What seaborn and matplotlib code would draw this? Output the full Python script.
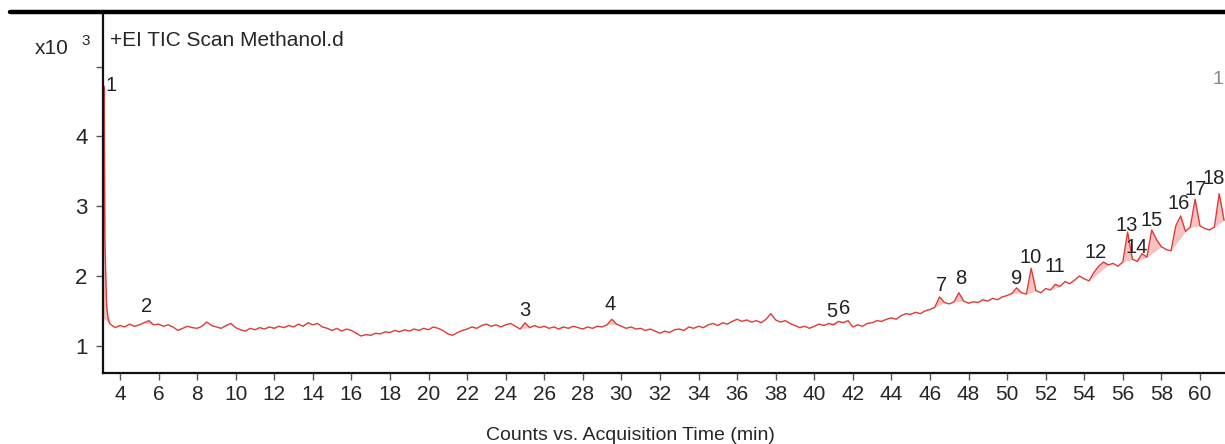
import matplotlib
matplotlib.use("Agg")
import matplotlib.pyplot as plt
from matplotlib.lines import Line2D
import numpy as np
import pandas as pd
import seaborn as sns

# TIC trace, counts in units of x10^3
rt_head = [3.12, 3.15, 3.17, 3.19, 3.22, 3.26, 3.31, 3.38, 3.44]
tic_head = [1.40, 3.20, 4.72, 4.20, 2.50, 2.05, 1.56, 1.40, 1.34]

# samples every 0.25 min from 3.5 to 61.25
tic_grid = [
    1.31, 1.26,
    1.29, 1.27, 1.31, 1.28,   # 4
    1.30, 1.33, 1.36, 1.30,   # 5
    1.31, 1.28, 1.30, 1.27,   # 6
    1.22, 1.25, 1.28, 1.26,   # 7
    1.25, 1.28, 1.34, 1.29,   # 8
    1.27, 1.25, 1.29, 1.32,   # 9
    1.26, 1.23, 1.21, 1.25,   # 10
    1.23, 1.26, 1.24, 1.27,   # 11
    1.25, 1.28, 1.26, 1.29,   # 12
    1.27, 1.31, 1.28, 1.33,   # 13
    1.30, 1.32, 1.27, 1.25,   # 14
    1.22, 1.25, 1.21, 1.24,   # 15
    1.22, 1.18, 1.14, 1.16,   # 16
    1.15, 1.18, 1.17, 1.20,   # 17
    1.19, 1.22, 1.20, 1.23,   # 18
    1.21, 1.24, 1.22, 1.25,   # 19
    1.23, 1.27, 1.25, 1.22,   # 20
    1.17, 1.15, 1.19, 1.22,   # 21
    1.24, 1.27, 1.25, 1.29,   # 22
    1.31, 1.28, 1.30, 1.27,   # 23
    1.30, 1.32, 1.28, 1.24,   # 24
    1.33, 1.26, 1.29, 1.26,   # 25
    1.28, 1.25, 1.27, 1.24,   # 26
    1.27, 1.25, 1.28, 1.26,   # 27
    1.24, 1.27, 1.25, 1.28,   # 28
    1.27, 1.30, 1.38, 1.31,   # 29
    1.28, 1.25, 1.27, 1.24,   # 30
    1.25, 1.22, 1.24, 1.21,   # 31
    1.18, 1.21, 1.19, 1.23,   # 32
    1.24, 1.22, 1.27, 1.25,   # 33
    1.28, 1.26, 1.30, 1.32,   # 34
    1.29, 1.33, 1.31, 1.35,   # 35
    1.38, 1.35, 1.37, 1.34,   # 36
    1.36, 1.33, 1.38, 1.46,   # 37
    1.37, 1.34, 1.36, 1.32,   # 38
    1.29, 1.26, 1.28, 1.25,   # 39
    1.28, 1.31, 1.29, 1.32,   # 40
    1.30, 1.35, 1.33, 1.36,   # 41
    1.27, 1.30, 1.28, 1.32,   # 42
    1.33, 1.36, 1.35, 1.38,   # 43
    1.40, 1.38, 1.43, 1.46,   # 44
    1.45, 1.48, 1.46, 1.50,   # 45
    1.52, 1.55, 1.70, 1.62,   # 46
    1.60, 1.63, 1.76, 1.64,   # 47
    1.61, 1.63, 1.62, 1.66,   # 48
    1.64, 1.68, 1.66, 1.70,   # 49
    1.72, 1.75, 1.83, 1.76,   # 50
    1.74, 2.11, 1.79, 1.76,   # 51
    1.82, 1.80, 1.88, 1.85,   # 52
    1.92, 1.89, 1.94, 2.00,   # 53
    1.96, 1.93, 2.05, 2.14,   # 54
    2.20, 2.16, 2.18, 2.14,   # 55
    2.20, 2.63, 2.24, 2.21,   # 56
    2.32, 2.27, 2.66, 2.52,   # 57
    2.42, 2.38, 2.36, 2.72,   # 58
    2.86, 2.64, 2.70, 3.10,   # 59
    2.72, 2.68, 2.66, 2.70,   # 60
    3.18, 2.80,               # 61
]
rt_grid = np.arange(len(tic_grid)) * 0.25 + 3.5

# integrated peak windows (start, end) in min
peak_windows = [(3.12, 3.5), (5.25, 5.75), (24.75, 25.25), (29.25, 29.75),
                (40.75, 41.25), (41.25, 41.75), (46.25, 46.75), (47.25, 47.75),
                (50.25, 50.75), (51.0, 51.5), (52.25, 52.75), (54.25, 55.25),
                (56.0, 56.5), (56.75, 57.25), (57.25, 58.0), (58.5, 59.25),
                (59.5, 60.0), (60.75, 61.25)]

peak_ids = [str(i) for i in range(1, 19)]
label_rt = [3.53, 5.4, 25.0, 29.4, 40.9, 41.6, 46.6, 47.6, 50.5, 51.2,
            52.5, 54.6, 56.2, 56.7, 57.5, 58.9, 59.8, 60.7]
label_y = [4.73, 1.56, 1.50, 1.59, 1.49, 1.54, 1.87, 1.96, 1.97, 2.27,
           2.13, 2.34, 2.73, 2.41, 2.79, 3.04, 3.24, 3.40]

xticks = list(range(4, 61, 2))

rt = np.concatenate([rt_head, rt_grid])
tic = np.concatenate([tic_head, tic_grid])
df = pd.DataFrame({"rt": rt, "tic": tic})

sns.set_style("ticks")
plt.rcParams['font.family'] = ['Liberation Sans', 'DejaVu Sans']

fig = plt.figure(figsize=(12.25, 4.44), dpi=100)
ax = fig.add_axes([103 / 1225, 1 - 373 / 444, 1 - 103 / 1225, (373 - 15) / 444])

red = "#e03a36"
for a, b in peak_windows:
    m = (df.rt >= a - 1e-9) & (df.rt <= b + 1e-9)
    seg = df[m]
    base = np.interp(seg.rt, [seg.rt.iloc[0], seg.rt.iloc[-1]],
                     [seg.tic.iloc[0], seg.tic.iloc[-1]])
    ax.fill_between(seg.rt, base, seg.tic, color="#f29a98", alpha=0.6, lw=0)

sns.lineplot(data=df, x="rt", y="tic", ax=ax, color=red, lw=1.0)

for name, x, y in zip(peak_ids, label_rt, label_y):
    ax.text(x, y, name, fontsize=14.5, ha="center", va="center", color="#222222")

ax.set_xlim(3.12, 61.3)
ax.set_ylim(0.61, 5.74)
ax.set_xticks(xticks)
ax.set_xticklabels([str(t) for t in xticks], fontsize=15)
ax.set_yticks([1, 2, 3, 4, 5])
ax.set_yticklabels(["1", "2", "3", "4", ""], fontsize=16)
ax.tick_params(axis="both", direction="out", length=5, width=1, color="#555555")
ax.tick_params(axis="y", pad=6)
ax.set_xlabel("Counts vs. Acquisition Time (min)", fontsize=14)
ax.set_ylabel("")
ax.xaxis.set_label_coords(0.47, -0.15)
for s in ["top", "right"]:
    ax.spines[s].set_visible(False)
for s in ["left", "bottom"]:
    ax.spines[s].set_linewidth(1.6)
    ax.spines[s].set_color("#111111")

ax.text(0.006, 0.93, "+EI TIC Scan Methanol.d", transform=ax.transAxes,
        fontsize=15, ha="left", va="center")
fig.text(35 / 1225, 1 - 48 / 444, "x10", fontsize=15, ha="left", va="center")
fig.text(81 / 1225, 1 - 41 / 444, "3", fontsize=11, ha="left", va="center")
fig.text(1212 / 1225, 1 - 80 / 444, "1", fontsize=14, ha="left", va="center",
         color="#888888")

fig.add_artist(Line2D([10 / 1225, 1.0], [1 - 12 / 444, 1 - 12 / 444],
                      transform=fig.transFigure, color="black", lw=3.2))

fig.savefig("out.png", dpi=100)
